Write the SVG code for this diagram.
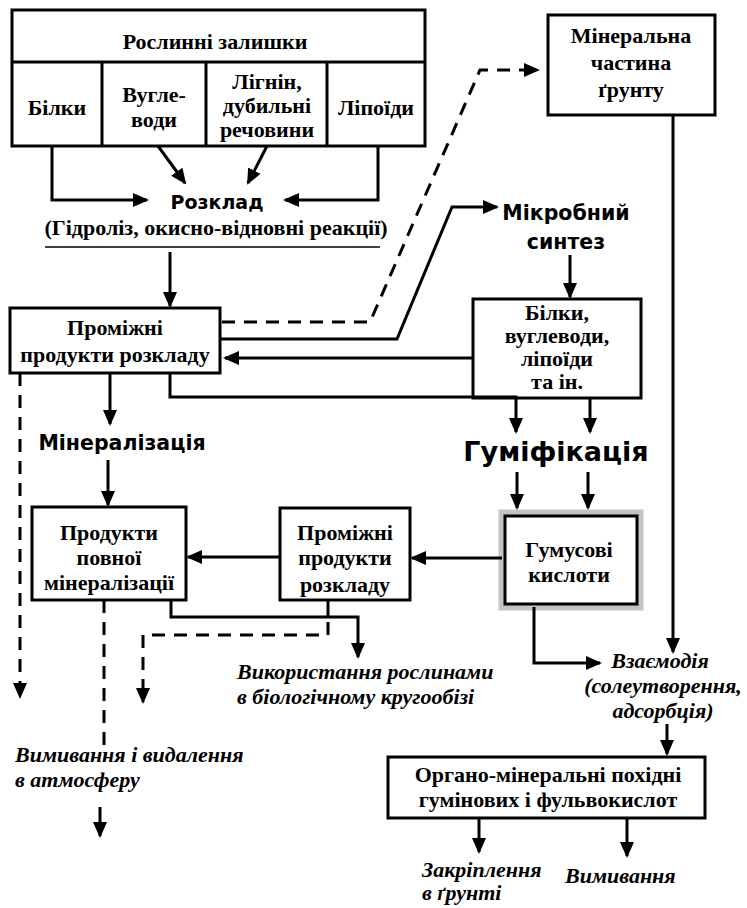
<svg xmlns="http://www.w3.org/2000/svg" width="747" height="908" viewBox="0 0 747 908">
<style>
.box{fill:#fff;stroke:#000;stroke-width:3}
.t{font-family:"Liberation Serif","Times New Roman",serif;font-weight:bold;font-size:22px;fill:#000;text-anchor:middle}
.it{font-family:"Liberation Serif","Times New Roman",serif;font-weight:bold;font-style:italic;font-size:22px;fill:#000}
.d{font-family:"DejaVu Sans",sans-serif;font-weight:bold;fill:#000;text-anchor:middle}
.c{fill:none;stroke:#000;stroke-width:3}
.a{marker-end:url(#ah)}
.dash{stroke-dasharray:13 9}
</style>
<defs>
<marker id="ah" viewBox="0 0 16 14" refX="14" refY="7" markerWidth="16" markerHeight="14" markerUnits="userSpaceOnUse" orient="auto">
<path d="M0,0 L16,7 L0,14 z" fill="#000"/>
</marker>
</defs>

<g id="roslynni">
<rect class="box" x="12" y="10" width="413" height="136"/>
<line x1="12" y1="62" x2="425" y2="62" stroke="#000" stroke-width="3"/>
<line x1="102" y1="62" x2="102" y2="146" stroke="#000" stroke-width="3"/>
<line x1="206" y1="62" x2="206" y2="146" stroke="#000" stroke-width="3"/>
<line x1="327" y1="62" x2="327" y2="146" stroke="#000" stroke-width="3"/>
<text class="t" x="215" y="49">Рослинні залишки</text>
<text class="t" x="57" y="115">Білки</text>
<text class="t" x="154" y="102">Вугле-</text>
<text class="t" x="154" y="127">води</text>
<text class="t" x="267" y="89" font-size="21">Лігнін,</text>
<text class="t" x="267" y="113" font-size="21">дубильні</text>
<text class="t" x="267" y="137" font-size="21">речовини</text>
<text class="t" x="376" y="115">Ліпоїди</text>
</g>

<g id="rozklad">
<text class="d" x="217" y="209" font-size="19">Розклад</text>
<text class="t" x="216" y="235">(Гідроліз, окисно-відновні реакції)</text>
<line x1="45" y1="247" x2="380" y2="247" stroke="#000" stroke-width="1.5"/>
</g>

<g id="mineralna">
<rect class="box" x="548" y="15" width="167" height="100"/>
<text class="t" x="631" y="43">Мінеральна</text>
<text class="t" x="631" y="70">частина</text>
<text class="t" x="631" y="97">ґрунту</text>
</g>

<g id="mikrobnyi">
<text class="d" x="566" y="220" font-size="20.5">Мікробний</text>
<text class="d" x="566" y="249" font-size="20.5">синтез</text>
</g>

<g id="promizhni1">
<rect class="box" x="10" y="308" width="210" height="65"/>
<text class="t" x="115" y="335">Проміжні</text>
<text class="t" x="115" y="362">продукти розкладу</text>
</g>

<g id="bilky">
<rect class="box" x="473" y="299" width="168" height="99"/>
<text class="t" x="557" y="320" font-size="18">Білки,</text>
<text class="t" x="557" y="343" font-size="18">вуглеводи,</text>
<text class="t" x="557" y="366" font-size="18">ліпоїди</text>
<text class="t" x="557" y="389" font-size="18">та ін.</text>
</g>

<g id="mineralizatsiia">
<text class="d" x="122" y="450" font-size="20.5">Мінералізація</text>
</g>

<g id="gumifikatsiia">
<text class="d" x="556" y="461" font-size="27">Гуміфікація</text>
</g>

<g id="produkty">
<rect class="box" x="32" y="507" width="154" height="93"/>
<text class="t" x="109" y="540">Продукти</text>
<text class="t" x="109" y="565">повної</text>
<text class="t" x="109" y="590">мінералізації</text>
</g>

<g id="promizhni2">
<rect class="box" x="280" y="508" width="130" height="92"/>
<text class="t" x="345" y="540">Проміжні</text>
<text class="t" x="345" y="565">продукти</text>
<text class="t" x="345" y="592">розкладу</text>
</g>

<g id="gumusovi">
<rect x="503" y="514" width="136" height="92" fill="#fff" stroke="#c4c4c4" stroke-width="9"/>
<rect x="505" y="516" width="132" height="88" fill="#fff" stroke="#000" stroke-width="3"/>
<text class="t" x="569" y="557" font-size="23">Гумусові</text>
<text class="t" x="569" y="582" font-size="23">кислоти</text>
</g>

<g id="vykorystannia">
<text class="it" x="237" y="679">Використання рослинами</text>
<text class="it" x="237" y="704">в біологічному кругообізі</text>
</g>

<g id="vzaiemodiia">
<text class="it" x="660" y="668" text-anchor="middle">Взаємодія</text>
<text class="it" x="663" y="693" text-anchor="middle" font-size="21">(солеутворення,</text>
<text class="it" x="663" y="718" text-anchor="middle" font-size="21">адсорбція)</text>
</g>

<g id="vymyvannia1">
<text class="it" x="15" y="762">Вимивання і видалення</text>
<text class="it" x="15" y="787">в атмосферу</text>
</g>

<g id="orhano">
<rect class="box" x="388" y="757" width="317" height="61"/>
<text class="t" x="548" y="782">Органо-мінеральні похідні</text>
<text class="t" x="548" y="807">гумінових і фульвокислот</text>
</g>

<g id="zakriplennia">
<text class="it" x="422" y="877" font-size="21">Закріплення</text>
<text class="it" x="422" y="900" font-size="21">в ґрунті</text>
</g>

<g id="vymyvannia2">
<text class="it" x="565" y="883">Вимивання</text>
</g>

<g id="connectors">
<path class="c a" d="M52,146 V200 H147"/>
<path class="c a" d="M158,146 L185,183"/>
<path class="c a" d="M267,146 L248,183"/>
<path class="c a" d="M378,146 V200 H285"/>
<path class="c a" d="M170,252 V306"/>
<path class="c a dash" d="M222,322 H370 L480,70 H538"/>
<path class="c a" d="M220,339 H397 L452,207 H497"/>
<path class="c a" d="M570,255 V297"/>
<path class="c a" d="M473,358 H225"/>
<path class="c a" d="M170,373 V397 H516 V432"/>
<path class="c a" d="M590,398 V432"/>
<path class="c a" d="M517,472 V508"/>
<path class="c a" d="M588,472 V508"/>
<path class="c a" d="M502,558 H412"/>
<path class="c a" d="M280,557 H188"/>
<path class="c a" d="M110,373 V424"/>
<path class="c a" d="M108,460 V505"/>
<path class="c a dash" d="M20,373 V697"/>
<path class="c dash" d="M104,600 V752"/>
<path class="c a" d="M100,807 V836"/>
<path class="c a" d="M171,600 V617 H358 V657"/>
<path class="c" d="M328,600 V617"/>
<path class="c a dash" d="M328,622 V635 H143 V702"/>
<path class="c a" d="M534,607 V663 H600"/>
<path class="c a" d="M673,115 V652"/>
<path class="c a" d="M667,724 V754"/>
<path class="c a" d="M479,818 V852"/>
<path class="c a" d="M627,818 V856"/>
</g>
</svg>
